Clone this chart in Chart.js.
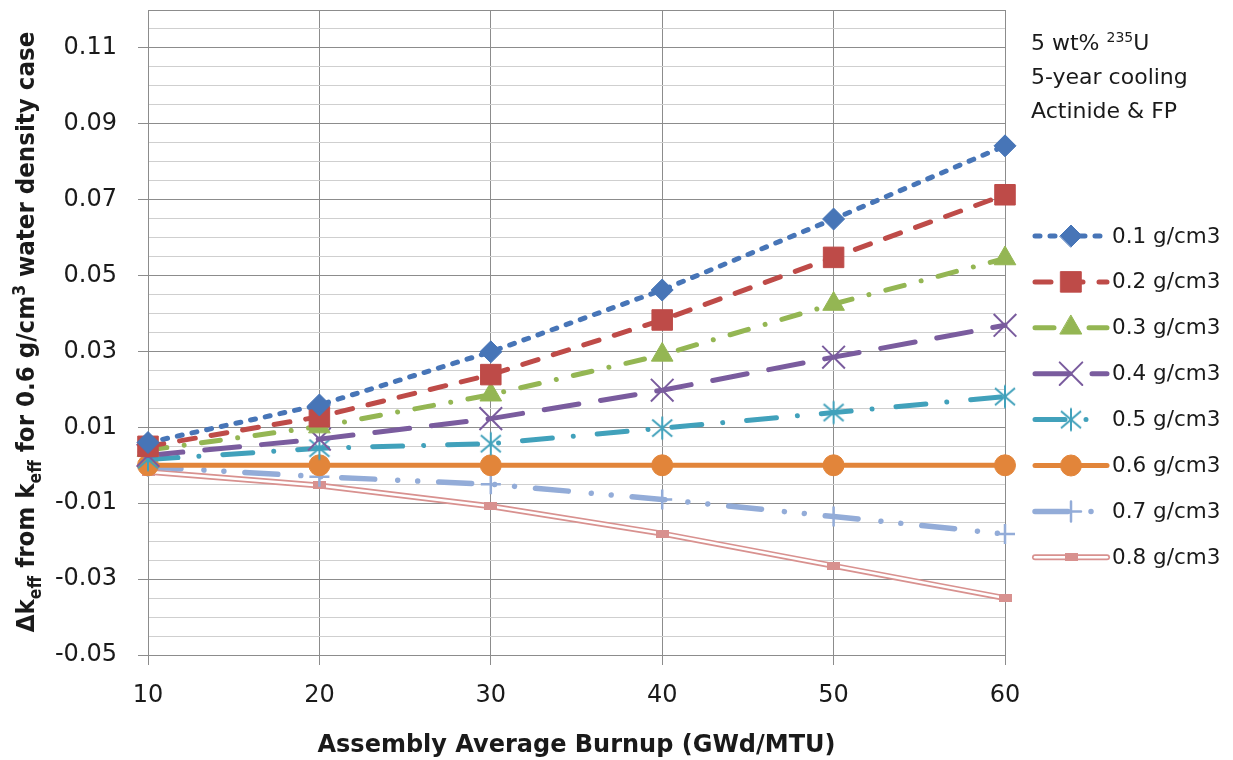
<!DOCTYPE html>
<html>
<head>
<meta charset="utf-8">
<script src="https://cdn.jsdelivr.net/npm/chart.js@4.4.1/dist/chart.umd.min.js"></script>
<style>
  html, body { margin: 0; padding: 0; background: #ffffff; }
  canvas { display: block; }
</style>
</head>
<body>
<canvas id="chart" width="1233" height="760"></canvas>
<script>
// Burnup points (GWd/MTU)
const burnup = [10, 20, 30, 40, 50, 60];

// Δk_eff relative to the 0.6 g/cm3 water density case, one array per density
const rho01 = [0.0060, 0.0159, 0.0299, 0.0462, 0.0649, 0.0842];
const rho02 = [0.0050, 0.0128, 0.0239, 0.0383, 0.0548, 0.0713];
const rho03 = [0.0040, 0.0102, 0.0186, 0.0291, 0.0425, 0.0545];
const rho04 = [0.0026, 0.0069, 0.0123, 0.0198, 0.0285, 0.0369];
const rho05 = [0.0015, 0.0045, 0.0057, 0.0098, 0.0139, 0.0181];
const rho06 = [0.0000, 0.0000, 0.0000, 0.0000, 0.0000, 0.0000];
const rho07 = [-0.0004, -0.0030, -0.0050, -0.0090, -0.0135, -0.0181];
const rho08 = [-0.0017, -0.0053, -0.0108, -0.0180, -0.0265, -0.0350];

const seriesNames = ['0.1 g/cm3', '0.2 g/cm3', '0.3 g/cm3', '0.4 g/cm3',
                     '0.5 g/cm3', '0.6 g/cm3', '0.7 g/cm3', '0.8 g/cm3'];

// Labelled y ticks; the grid also has minor lines every 0.005 up to 0.12
const yTickLabels = ['-0.05', '-0.03', '-0.01', '0.01', '0.03', '0.05', '0.07', '0.09', '0.11'];
const yMinorStep = 0.005;
const yMin = -0.05;
const yMax = 0.12;
const xTickLabels = ['10', '20', '30', '40', '50', '60'];

const xTitle = 'Assembly Average Burnup (GWd/MTU)';
// [text, shift] where shift -1 = subscript, 1 = superscript
const yTitleParts = [['Δk', 0], ['eff', -1], [' from k', 0], ['eff', -1],
                     [' for 0.6 g/cm', 0], ['3', 1], [' water density case', 0]];
const noteLines = [[['5 wt% ', 0], ['235', 1], ['U', 0]],
                   [['5-year cooling', 0]],
                   [['Actinide & FP', 0]]];

const FONT = '"DejaVu Sans", "Liberation Sans", sans-serif';
const INK = '#1a1a1a';
const GRID_MAJOR = '#8c8c8c';
const GRID_MINOR = '#cfcfcf';

const C = {
  blue: '#4775b7', red: '#be4b48', green: '#94b653', purple: '#7a5c9e',
  teal: '#41a1bb', orange: '#e2853a', sky: '#93acd8', rose: '#d8918f'
};

// custom marker images
function asteriskMarker(color) {
  const s = 28, m = s / 2;
  const c = document.createElement('canvas');
  c.width = s; c.height = s;
  const g = c.getContext('2d');
  g.strokeStyle = color; g.lineWidth = 2;
  g.beginPath();
  g.moveTo(m, m - 11.5); g.lineTo(m, m + 11.5);
  g.moveTo(m - 10, m - 8.5); g.lineTo(m + 10, m + 8.5);
  g.moveTo(m - 10, m + 8.5); g.lineTo(m + 10, m - 8.5);
  g.stroke();
  return c;
}
function barMarker(color) {
  const c = document.createElement('canvas');
  c.width = 13; c.height = 8;
  const g = c.getContext('2d');
  g.fillStyle = color;
  g.fillRect(0, 0, 13, 8);
  return c;
}

function series(i, data, color, extra) {
  return Object.assign({
    label: seriesNames[i],
    data: burnup.map((x, k) => ({ x: x, y: data[k] })),
    borderColor: color,
    backgroundColor: color,
    pointBackgroundColor: color,
    pointBorderColor: color,
    pointBorderWidth: 1,
    borderCapStyle: 'round',
    borderJoinStyle: 'round',
    borderWidth: 5,
    tension: 0,
    fill: false,
    clip: false
  }, extra);
}

const datasets = [
  series(0, rho01, C.blue,   { borderDash: [5, 10], pointStyle: 'rectRot', pointRadius: 11 }),
  series(1, rho02, C.red,    { borderDash: [16, 16], pointStyle: 'rect', pointRadius: 14.5 }),
  series(2, rho03, C.green,  { borderDash: [19, 17.5, 0.01, 17.5], pointStyle: 'triangle', pointRadius: 12.5 }),
  series(3, rho04, C.purple, { borderWidth: 5, borderDash: [35, 22], pointStyle: 'crossRot', pointRadius: 16, pointBorderWidth: 2 }),
  series(4, rho05, C.teal,   { borderWidth: 5, borderDash: [30, 21, 0.01, 24], pointStyle: asteriskMarker(C.teal), pointRadius: 12 }),
  series(5, rho06, C.orange, { borderWidth: 5, pointStyle: 'circle', pointRadius: 10.5 }),
  series(6, rho07, C.sky,    { borderWidth: 5.5, borderDash: [33, 23, 0.01, 20, 0.01, 21], pointStyle: 'cross', pointRadius: 10, pointBorderWidth: 2.5 }),
  series(7, rho08, C.rose,   { borderWidth: 6, pointStyle: barMarker(C.rose), pointRadius: 7, doubleLine: true })
];

// y ticks: every 0.005, labelled where a label exists
const yTickValues = [];
for (let k = 0; yMin + k * yMinorStep <= yMax + 1e-9; k++) {
  yTickValues.push(Math.round((yMin + k * yMinorStep) * 1000) / 1000);
}
function yLabelFor(v) {
  const hit = yTickLabels.find(t => Math.abs(parseFloat(t) - v) < 1e-9);
  return hit === undefined ? '' : hit;
}

// compound (double) line: white core on top of the coloured stroke
const doubleLinePlugin = {
  id: 'doubleLine',
  afterDatasetDraw(chart, args) {
    const ds = chart.data.datasets[args.index];
    if (!ds.doubleLine) return;
    const meta = args.meta;
    const ctx = chart.ctx;
    ctx.save();
    ctx.strokeStyle = '#ffffff';
    ctx.lineWidth = 2.5;
    ctx.lineJoin = 'round';
    ctx.beginPath();
    meta.data.forEach((p, k) => { if (k === 0) ctx.moveTo(p.x, p.y); else ctx.lineTo(p.x, p.y); });
    ctx.stroke();
    ctx.restore();
    meta.data.forEach(p => p.draw(ctx, chart.chartArea));
  }
};

function drawRuns(ctx, parts, x, y, size, subSize) {
  let cx = x;
  parts.forEach(([txt, shift]) => {
    const fs = shift === 0 ? size : subSize;
    ctx.font = ctx.__weight + ' ' + fs + 'px ' + FONT;
    const dy = shift === -1 ? size * 0.28 : shift === 1 ? -size * 0.38 : 0;
    ctx.fillText(txt, cx, y + dy);
    cx += ctx.measureText(txt).width;
  });
  return cx - x;
}
function runsWidth(ctx, parts, size, subSize) {
  let w = 0;
  parts.forEach(([txt, shift]) => {
    ctx.font = ctx.__weight + ' ' + (shift === 0 ? size : subSize) + 'px ' + FONT;
    w += ctx.measureText(txt).width;
  });
  return w;
}

const textPlugin = {
  id: 'texts',
  afterDraw(chart) {
    const ctx = chart.ctx;
    const area = chart.chartArea;
    ctx.save();
    ctx.fillStyle = INK;
    ctx.textBaseline = 'alphabetic';
    ctx.textAlign = 'left';

    // rotated y-axis title with subscripts
    ctx.__weight = 'bold';
    ctx.save();
    ctx.translate(34, 332);
    ctx.rotate(-Math.PI / 2);
    ctx.scale(0.92, 1);
    const tw = runsWidth(ctx, yTitleParts, 25, 17);
    drawRuns(ctx, yTitleParts, -tw / 2, 0, 25, 17);
    ctx.restore();

    // note in the top-right corner
    ctx.__weight = 'normal';
    noteLines.forEach((parts, k) => {
      drawRuns(ctx, parts, area.right + 26, 50 + k * 34, 22, 14);
    });

    // legend: line sample + marker + name
    const lx0 = area.right + 30, lx1 = area.right + 102, tx = area.right + 107;
    chart.data.datasets.forEach((ds, k) => {
      const y = 236 + k * 45.9;
      ctx.save();
      ctx.strokeStyle = ds.borderColor;
      ctx.lineWidth = ds.borderWidth;
      ctx.lineCap = ds.borderCapStyle;
      ctx.setLineDash(ds.borderDash || []);
      ctx.beginPath(); ctx.moveTo(lx0, y); ctx.lineTo(lx1, y); ctx.stroke();
      ctx.setLineDash([]);
      if (ds.doubleLine) {
        ctx.strokeStyle = '#ffffff'; ctx.lineWidth = 2.5;
        ctx.beginPath(); ctx.moveTo(lx0, y); ctx.lineTo(lx1, y); ctx.stroke();
      }
      ctx.fillStyle = ds.pointBackgroundColor;
      ctx.strokeStyle = ds.pointBorderColor;
      ctx.lineWidth = ds.pointBorderWidth;
      Chart.helpers.drawPoint(ctx, {
        pointStyle: ds.pointStyle, radius: ds.pointRadius,
        borderWidth: ds.pointBorderWidth, rotation: 0
      }, (lx0 + lx1) / 2, y);
      ctx.restore();
      ctx.fillStyle = INK;
      ctx.font = '21.5px ' + FONT;
      ctx.textBaseline = 'middle';
      ctx.fillText(ds.label, tx, y + 1);
      ctx.textBaseline = 'alphabetic';
    });
    ctx.restore();
  }
};

new Chart(document.getElementById('chart'), {
  type: 'line',
  data: { datasets: datasets },
  plugins: [doubleLinePlugin, textPlugin],
  options: {
    responsive: false,
    animation: false,
    events: [],
    layout: { autoPadding: false, padding: { left: 0, top: 10, right: 228, bottom: 0 } },
    plugins: { legend: { display: false }, title: { display: false }, tooltip: { enabled: false } },
    scales: {
      x: {
        type: 'linear',
        min: 10, max: 60,
        afterFit(scale) { scale.height = 105; },
        afterBuildTicks(scale) { scale.ticks = xTickLabels.map(t => ({ value: parseFloat(t) })); },
        ticks: {
          autoSkip: false,
          maxRotation: 0,
          padding: 16,
          color: INK,
          font: { family: FONT, size: 24 },
          callback: (v) => xTickLabels.find(t => parseFloat(t) === v) || ''
        },
        grid: { color: GRID_MAJOR, lineWidth: 1, tickLength: 10, tickColor: GRID_MAJOR },
        border: { color: GRID_MAJOR, width: 1 },
        title: {
          display: true,
          text: xTitle,
          color: INK,
          font: { family: FONT, size: 24, weight: 'bold' },
          padding: { top: 0, bottom: 0 }
        }
      },
      y: {
        type: 'linear',
        min: yMin, max: yMax,
        afterFit(scale) {
          scale.width = 148;
          scale.paddingTop = 0;
          scale.paddingBottom = 0;
        },
        afterBuildTicks(scale) { scale.ticks = yTickValues.map(v => ({ value: v })); },
        ticks: {
          autoSkip: false,
          padding: 21,
          color: INK,
          font: { family: FONT, size: 24 },
          callback: (v) => yLabelFor(v)
        },
        grid: {
          lineWidth: 1,
          tickLength: 10,
          color: (c) => {
            const v = c.tick ? c.tick.value : 0;
            return (yLabelFor(v) !== '' || Math.abs(v - yMax) < 1e-9) ? GRID_MAJOR : GRID_MINOR;
          },
          tickColor: (c) => {
            const v = c.tick ? c.tick.value : 0;
            return yLabelFor(v) !== '' ? GRID_MAJOR : 'rgba(0,0,0,0)';
          }
        },
        border: { color: GRID_MAJOR, width: 1 }
      }
    }
  }
});
</script>
</body>
</html>
